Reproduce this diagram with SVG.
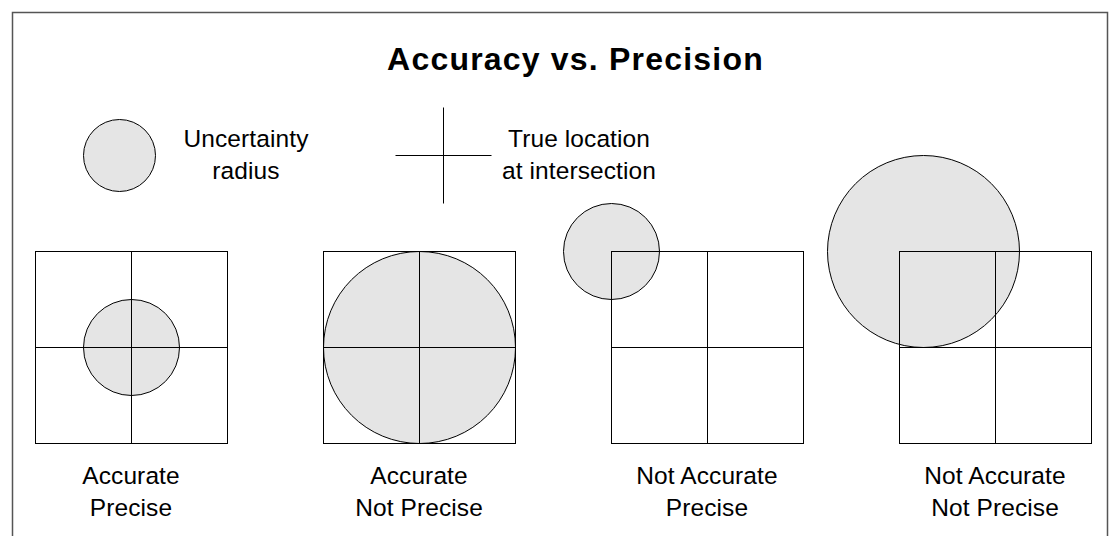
<svg xmlns="http://www.w3.org/2000/svg" width="1109" height="536" viewBox="0 0 1109 536">
<style>
.frame{fill:none;stroke:#555;stroke-width:1.5}
.box{fill:none;stroke:#000;stroke-width:1}
.ln{stroke:#000;stroke-width:1}
.unc{fill:#e5e5e5;stroke:#000;stroke-width:1}
.t{font-family:"Liberation Sans",Arial,sans-serif;font-size:24.5px;fill:#000;text-anchor:middle;letter-spacing:0.1px}
.title{font-family:"Liberation Sans",Arial,sans-serif;font-size:32px;font-weight:bold;fill:#000;text-anchor:middle;letter-spacing:1.2px}
</style>
<rect width="1109" height="536" fill="#fff"/>
<path class="frame" d="M12.5,545 V12.5 H1107.5 V545"/>
<text class="title" x="575.5" y="70">Accuracy vs. Precision</text>
<g id="legend-uncertainty">
<circle class="unc" cx="119.5" cy="155.5" r="36"/>
<text class="t" x="246" y="147">Uncertainty</text>
<text class="t" x="246" y="179">radius</text>
</g>
<g id="legend-true-location">
<line class="ln" x1="395.5" y1="155.5" x2="491.5" y2="155.5"/>
<line class="ln" x1="443.5" y1="107.5" x2="443.5" y2="203.5"/>
<text class="t" x="579" y="147">True location</text>
<text class="t" x="579" y="179">at intersection</text>
</g>
<g id="accurate-precise">
<circle class="unc" cx="131.5" cy="347.5" r="48"/>
<rect class="box" x="35.5" y="251.5" width="192" height="192"/>
<line class="ln" x1="35.5" y1="347.5" x2="227.5" y2="347.5"/>
<line class="ln" x1="131.5" y1="251.5" x2="131.5" y2="443.5"/>
<text class="t" x="131" y="484">Accurate</text>
<text class="t" x="131" y="516">Precise</text>
</g>
<g id="accurate-not-precise">
<circle class="unc" cx="419.5" cy="347.5" r="96"/>
<rect class="box" x="323.5" y="251.5" width="192" height="192"/>
<line class="ln" x1="323.5" y1="347.5" x2="515.5" y2="347.5"/>
<line class="ln" x1="419.5" y1="251.5" x2="419.5" y2="443.5"/>
<text class="t" x="419" y="484">Accurate</text>
<text class="t" x="419" y="516">Not Precise</text>
</g>
<g id="not-accurate-precise">
<circle class="unc" cx="611.5" cy="251.5" r="48"/>
<rect class="box" x="611.5" y="251.5" width="192" height="192"/>
<line class="ln" x1="611.5" y1="347.5" x2="803.5" y2="347.5"/>
<line class="ln" x1="707.5" y1="251.5" x2="707.5" y2="443.5"/>
<text class="t" x="707" y="484">Not Accurate</text>
<text class="t" x="707" y="516">Precise</text>
</g>
<g id="not-accurate-not-precise">
<circle class="unc" cx="923.5" cy="251.5" r="96"/>
<rect class="box" x="899.5" y="251.5" width="192" height="192"/>
<line class="ln" x1="899.5" y1="347.5" x2="1091.5" y2="347.5"/>
<line class="ln" x1="995.5" y1="251.5" x2="995.5" y2="443.5"/>
<text class="t" x="995" y="484">Not Accurate</text>
<text class="t" x="995" y="516">Not Precise</text>
</g>
<g id="connectors"/>
</svg>
